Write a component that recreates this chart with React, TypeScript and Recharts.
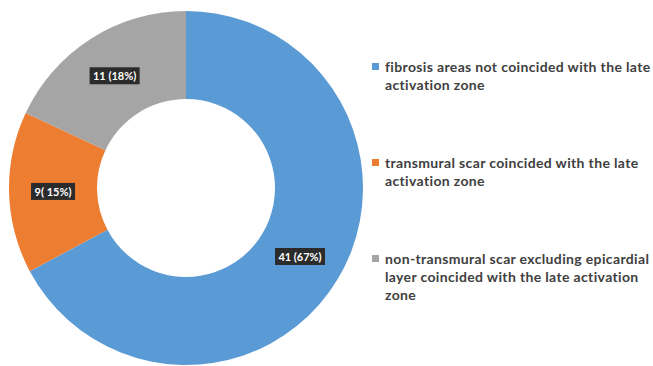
import { PieChart, Pie, Cell, Legend } from "recharts";

const categories = [
  "fibrosis areas not coincided with the late activation zone",
  "transmural scar coincided with the late activation zone",
  "non-transmural scar excluding epicardial layer coincided with the late activation zone",
];
// how the legend text wraps in the original
const legendLines = [
  ["fibrosis areas not coincided with the late", "activation zone"],
  ["transmural scar coincided with the late", "activation zone"],
  ["non-transmural scar excluding epicardial", "layer coincided with the late activation", "zone"],
];
const counts = [41, 9, 11];
const labels = ["41 (67%)", "9( 15%)", "11 (18%)"];
const colors = ["#5b9bd5", "#ed7d31", "#a5a5a5"];

const data = categories.map((name, i) => ({ name, value: counts[i], label: labels[i] }));

const FONT = "Lato, 'Liberation Sans', sans-serif";

function SliceLabel(props: any) {
  const { cx, cy, midAngle, innerRadius, outerRadius, index } = props;
  const r = (innerRadius + outerRadius) / 2;
  const rad = (Math.PI / 180) * midAngle;
  const x = cx + r * Math.cos(rad);
  const y = cy - r * Math.sin(rad);
  const text = labels[index];
  const w = text.length * 6 + 2;
  return (
    <g>
      <rect x={x - w / 2} y={y - 8.5} width={w} height={17} fill="#2b2b2b" />
      <text
        x={x}
        y={y}
        textAnchor="middle"
        dominantBaseline="central"
        fill="#ffffff"
        fontSize={11}
        fontWeight={700}
        fontFamily={FONT}
      >
        {text}
      </text>
    </g>
  );
}

function LegendBox() {
  return (
    <div
      style={{
        fontFamily: FONT,
        fontWeight: 700,
        fontSize: 14,
        letterSpacing: 0.35,
        color: "#404040",
        lineHeight: "18px",
      }}
    >
      {legendLines.map((lines, i) => (
        <div key={i} style={{ position: "relative", paddingLeft: 14, marginBottom: 60 }}>
          <span
            style={{
              position: "absolute",
              left: 1,
              top: 5,
              width: 7,
              height: 7,
              background: colors[i],
            }}
          />
          {lines.map((l, j) => (
            <div key={j} style={{ whiteSpace: "nowrap" }}>{l}</div>
          ))}
        </div>
      ))}
    </div>
  );
}

export default function App() {
  return (
    <div style={{ position: "absolute", left: 0, top: 0, width: 653, height: 366, background: "#fff" }}>
      <PieChart width={653} height={366} margin={{ top: 0, right: 0, bottom: 0, left: 0 }}>
        <Pie
          data={data}
          dataKey="value"
          nameKey="name"
          cx={186}
          cy={188}
          innerRadius={89}
          outerRadius={177}
          startAngle={90}
          endAngle={-270}
          stroke="none"
          label={SliceLabel}
          labelLine={false}
          isAnimationActive={false}
        >
          {data.map((d, i) => (
            <Cell key={d.name} fill={colors[i]} />
          ))}
        </Pie>
        <Legend
          content={<LegendBox />}
          wrapperStyle={{ position: "absolute", left: 371, top: 58, width: 282 }}
        />
      </PieChart>
    </div>
  );
}
